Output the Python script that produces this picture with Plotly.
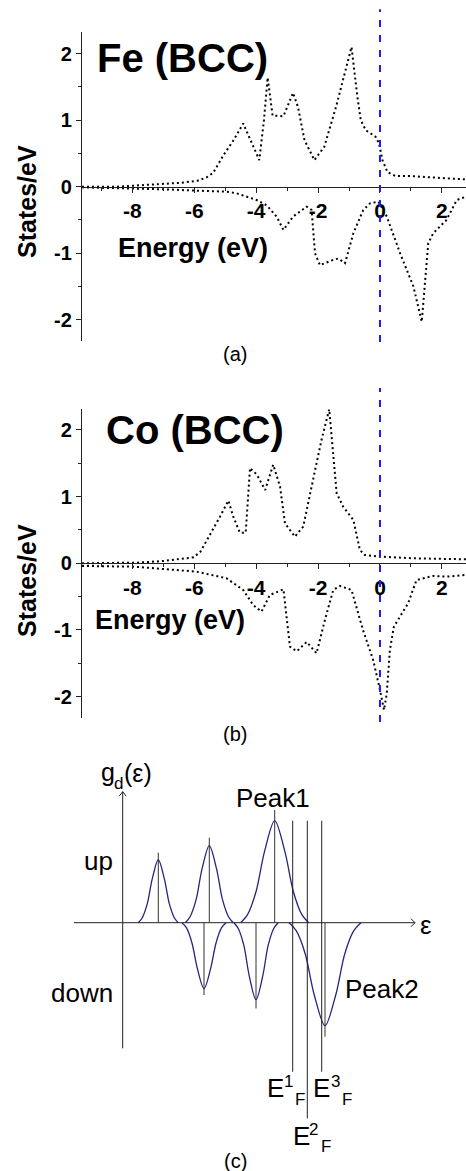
import plotly.graph_objects as go

W, H = 466, 1171

# ---------------- data ----------------
fe_up_e = [-9.63, -8.5, -7.8, -7.0, -6.4, -5.9, -5.6, -5.39, -5.05, -4.73, -4.42, -3.9, -3.75, -3.63, -3.47,
           -3.12, -2.81, -2.65, -2.44, -2.12, -1.8, -1.42, -1.1, -0.92, -0.73, -0.62, -0.46, -0.14, -0.03,
           0.08, 0.24, 0.5, 1.0, 1.5, 2.0, 2.4, 2.78]
fe_up_d = [0.0, 0.0, 0.02, 0.04, 0.06, 0.09, 0.14, 0.21, 0.48, 0.7, 0.95, 0.4, 1.0, 1.64, 1.07,
           1.06, 1.41, 1.2, 0.7, 0.4, 0.6, 1.2, 1.8, 2.1, 1.35, 1.0, 0.85, 0.75, 0.65,
           0.4, 0.22, 0.16, 0.16, 0.15, 0.13, 0.12, 0.11]
fe_dn_e = [-9.63, -7.76, -6.9, -5.93, -4.96, -4.63, -3.99, -3.66, -3.34, -3.12, -2.81, -2.37, -2.21, -2.1,
           -1.94, -1.51, -1.35, -1.13, -0.86, -0.54, -0.32, -0.05, 0.22, 0.65, 1.08, 1.35, 1.56, 1.72,
           2.15, 2.48, 2.78]
fe_dn_d = [-0.01, -0.025, -0.04, -0.06, -0.075, -0.1, -0.2, -0.28, -0.45, -0.65, -0.45, -0.3, -0.35, -1.0,
           -1.18, -1.1, -1.08, -1.15, -0.7, -0.35, -0.25, -0.225, -0.45, -1.0, -1.5, -2.03, -0.85, -0.7,
           -0.5, -0.2, -0.15]

co_up_e = [-9.63, -7.85, -6.99, -6.02, -5.8, -5.49, -5.17, -4.9, -4.74, -4.53, -4.34, -4.2, -3.98, -3.71,
           -3.45, -3.23, -3.07, -2.75, -2.48, -2.21, -1.89, -1.64, -1.4, -1.19, -0.86, -0.65, -0.49,
           -0.02, 1.06, 2.78]
co_up_d = [0.0, 0.01, 0.035, 0.09, 0.175, 0.43, 0.7, 0.94, 0.7, 0.46, 0.46, 1.43, 1.33, 1.1,
           1.48, 1.15, 0.6, 0.4, 0.55, 1.15, 1.85, 2.31, 1.05, 0.85, 0.65, 0.2, 0.125,
           0.1, 0.075, 0.06]
co_dn_e = [-9.63, -7.96, -6.88, -5.93, -4.96, -4.42, -4.1, -3.83, -3.56, -3.12, -2.91, -2.69, -2.37, -2.05,
           -1.78, -1.51, -1.29, -0.92, -0.55, -0.22, 0.0, 0.13, 0.22, 0.32, 0.45, 0.91, 1.18, 1.72,
           2.15, 2.78]
co_dn_d = [-0.04, -0.05, -0.09, -0.125, -0.225, -0.4, -0.625, -0.725, -0.475, -0.39, -1.25, -1.32, -1.18,
           -1.35, -0.85, -0.4, -0.34, -0.4, -1.0, -1.45, -1.9, -2.2, -1.95, -1.3, -0.95, -0.6, -0.25,
           -0.19, -0.2, -0.175]

x_tick_vals = [-8, -6, -4, -2, 0, 2]
x_tick_text = ["-8", "-6", "-4", "-2", "0", "2"]
y_tick_vals = [-2, -1, 0, 1, 2]
y_tick_text = ["-2", "-1", "0", "1", "2"]

# schematic (c): spin-up and spin-down bands (arbitrary units), one list per band
up1_x = [15.6, 19.6, 24.6, 29.6, 35.6, 41.6, 46.6, 51.6, 55.6]
up1_y = [0, 5, 19, 44, 63, 44, 19, 5, 0]
up2_x = [62.6, 67.4, 73.4, 79.4, 86.6, 93.8, 99.8, 105.8, 110.6]
up2_y = [0, 6, 23, 54, 77, 54, 23, 6, 0]
up3_x = [118, 124.8, 133.3, 141.8, 152, 162.2, 170.7, 179.2, 186]
up3_y = [0, 8, 31, 71, 102, 71, 31, 8, 0]
dn1_x = [59.3, 63.7, 69.2, 74.7, 81.3, 87.9, 93.4, 98.9, 103.3]
dn1_y = [0, -5, -20, -46, -66, -46, -20, -5, 0]
dn2_x = [111.3, 115.7, 121.2, 126.7, 133.3, 139.9, 145.4, 150.9, 155.3]
dn2_y = [0, -6, -23, -54, -77, -54, -23, -6, 0]
dn3_x = [166.3, 173.5, 182.5, 191.5, 202.3, 213.1, 222.1, 231.1, 238.3]
dn3_y = [0, -8, -31, -72, -103, -72, -31, -8, 0]
stick_x = [35.6, 86.6, 152, 81.3, 133.3, 202.3]
stick_top = [70, 85, 112.7, -72.3, -85.7, -114]
ef_x = [170, 184.6, 199]
ef_bottom = [-149, -195.7, -149]
ef_top = 102

# ---------------- figure ----------------
def py(p):  # pixel row -> paper y
    return 1 - p / H

def px(p):
    return p / W

FONT = "Arial, Liberation Sans, sans-serif"
DOT = dict(color="black", width=2, dash="2px,3px")

fig = go.Figure()
fig.add_trace(go.Scatter(x=fe_up_e, y=fe_up_d, mode="lines", line=DOT, xaxis="x", yaxis="y"))
fig.add_trace(go.Scatter(x=fe_dn_e, y=fe_dn_d, mode="lines", line=DOT, xaxis="x", yaxis="y"))
fig.add_trace(go.Scatter(x=co_up_e, y=co_up_d, mode="lines", line=DOT, xaxis="x2", yaxis="y2"))
fig.add_trace(go.Scatter(x=co_dn_e, y=co_dn_d, mode="lines", line=DOT, xaxis="x2", yaxis="y2"))

NAVY = "#27247e"
for bx, by in [(up1_x, up1_y), (up2_x, up2_y), (up3_x, up3_y), (dn1_x, dn1_y), (dn2_x, dn2_y), (dn3_x, dn3_y)]:
    fig.add_trace(go.Scatter(x=bx, y=by, mode="lines",
                             line=dict(color=NAVY, width=1.3, shape="spline", smoothing=0.9),
                             xaxis="x3", yaxis="y3"))

xdom = [px(82), 1.0]
xr = [-9.63, 2.78]

def xaxis_cfg(pos):
    return dict(domain=xdom, range=xr, anchor="free", position=pos, showline=True, linecolor="#222",
                linewidth=1.2, ticks="outside", ticklen=5, tickwidth=1.2, tickcolor="#222",
                tickvals=x_tick_vals, ticktext=x_tick_text, showgrid=False, zeroline=False,
                tickfont=dict(family=FONT, size=21, color="black", weight="bold"),
                minor=dict(tickvals=[-9, -7, -5, -3, -1, 1], ticks="outside", ticklen=3, tickcolor="#222"))

def yaxis_cfg(dom, rng, anchor):
    return dict(domain=dom, range=rng, anchor=anchor, showline=True, linecolor="#222", linewidth=1.2,
                ticks="outside", ticklen=5, tickwidth=1.2, tickcolor="#222", tickvals=y_tick_vals,
                ticktext=y_tick_text, showgrid=False, zeroline=False,
                tickfont=dict(family=FONT, size=20, color="black", weight="bold"),
                minor=dict(tickvals=[-1.5, -0.5, 0.5, 1.5], ticks="outside", ticklen=3, tickcolor="#222"))

fig.update_layout(
    width=W, height=H, margin=dict(l=0, r=0, t=0, b=0), showlegend=False,
    paper_bgcolor="white", plot_bgcolor="white",
    xaxis=xaxis_cfg(py(186.7)),
    yaxis=yaxis_cfg([py(341), py(32)], [-2.32, 2.326], "x"),
    xaxis2=xaxis_cfg(py(563.3)),
    yaxis2=yaxis_cfg([py(718.3), py(409.3)], [-2.325, 2.31], "x2"),
    xaxis3=dict(domain=[0, 1], range=[-122.7, 343.3], visible=False, anchor="y3"),
    yaxis3=dict(domain=[0, py(750)], range=[-248.3, 172.7], visible=False, anchor="x3"),
)

shapes = []
# Fermi level lines in (a) and (b)
shapes.append(dict(type="line", xref="x", yref="paper", x0=0, x1=0, y0=py(342), y1=py(9.3),
                   line=dict(color="#1a1aff", width=2, dash="7px,8px")))
shapes.append(dict(type="line", xref="x2", yref="paper", x0=0, x1=0, y0=py(722), y1=py(388),
                   line=dict(color="#1a1aff", width=2, dash="7px,8px")))
# schematic axes
AX = dict(color="#222", width=1)
shapes.append(dict(type="line", xref="x3", yref="y3", x0=-48.7, x1=292.3, y0=0, y1=0, line=AX))
shapes.append(dict(type="line", xref="x3", yref="y3", x0=0, x1=0, y0=-125.7, y1=131, line=AX))
shapes.append(dict(type="path", xref="x3", yref="y3", path="M 288.3,4 L 292.3,0 L 288.3,-4", line=AX))
shapes.append(dict(type="path", xref="x3", yref="y3", path="M -3.5,126.5 L 0,131 L 3.5,126.5", line=AX))
for sx, st in zip(stick_x, stick_top):
    shapes.append(dict(type="line", xref="x3", yref="y3", x0=sx, x1=sx, y0=0, y1=st,
                       line=dict(color="#333", width=1)))
for ex, eb in zip(ef_x, ef_bottom):
    shapes.append(dict(type="line", xref="x3", yref="y3", x0=ex, x1=ex, y0=eb, y1=ef_top,
                       line=dict(color="#222", width=1)))
fig.update_layout(shapes=shapes)

ann = []
def txt(t, x, y, size, bold=False, angle=0):
    f = dict(family=FONT, size=size, color="black")
    if bold:
        f["weight"] = "bold"
    ann.append(dict(text=t, x=px(x), y=py(y), xref="paper", yref="paper", showarrow=False,
                    xanchor="center", yanchor="middle", font=f, textangle=angle))

txt("Fe (BCC)", 182, 58, 40, bold=True)
txt("Energy (eV)", 193, 248, 27, bold=True)
txt("States/eV", 27, 202, 25, bold=True, angle=-90)
txt("(a)", 235, 354, 20)
txt("Co (BCC)", 195, 430, 40, bold=True)
txt("Energy (eV)", 170, 620, 27, bold=True)
txt("States/eV", 27, 581, 25, bold=True, angle=-90)
txt("(b)", 235, 734, 20)
# g_d(ε)
txt("g", 108, 772, 25)
txt("d", 118.5, 783, 17)
txt("(ε)", 138, 773, 25)
txt("up", 98, 861, 26)
txt("down", 82, 993, 26)
txt("Peak1", 273, 798, 26)
txt("Peak2", 382, 989, 26)
txt("ε", 426, 925, 26)
# E^1_F, E^3_F, E^2_F
txt("E", 275.5, 1088, 26)
txt("1", 288, 1081, 17)
txt("F", 299.5, 1099, 17)
txt("E", 321.5, 1088, 26)
txt("3", 335, 1081, 17)
txt("F", 347, 1099, 17)
txt("E", 301, 1136, 26)
txt("2", 313.5, 1129, 17)
txt("F", 326, 1146, 17)
txt("(c)", 235, 1161, 20)
fig.update_layout(annotations=ann)

fig.write_html("out.html")
